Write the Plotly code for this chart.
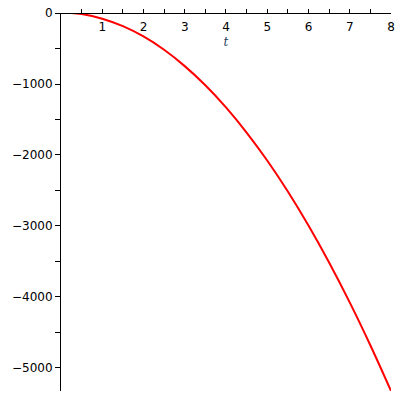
import plotly.graph_objects as go

t_vals = [0, 0.25, 0.5, 1, 1.5, 2, 2.5, 3, 3.5, 4, 4.5, 5, 5.5, 6, 6.5, 7, 7.5, 8]
y_vals = [0, -1, -15, -80, -185, -330, -518, -748, -1018, -1330, -1684, -2078, -2515, -2994, -3514, -4076, -4680, -5322]

x_ticks = [1, 2, 3, 4, 5, 6, 7, 8]
y_ticks = [0, -1000, -2000, -3000, -4000, -5000]

fig = go.Figure()
fig.add_trace(go.Scatter(x=t_vals, y=y_vals, mode="lines",
                         line=dict(color="#ff0000", width=2, shape="spline"),
                         showlegend=False, hoverinfo="skip"))

font = dict(family="DejaVu Sans", size=12, color="black")

fig.update_layout(
    width=400, height=400,
    margin=dict(l=61, r=9, t=13, b=9),
    paper_bgcolor="white", plot_bgcolor="white",
    xaxis=dict(range=[0, 8.001], anchor="free", position=1, side="bottom",
               automargin=False, ticklabeloverflow="allow", ticklabelstandoff=3,
               tickvals=x_ticks, ticks="inside", ticklen=4, tickcolor="black",
               showline=True, linecolor="black", linewidth=1,
               showgrid=False, zeroline=False, tickfont=font,
               minor=dict(dtick=0.5, ticks="inside", ticklen=4, tickcolor="black"),
               title=dict(text="<i>t</i>", font=dict(family="DejaVu Serif", size=12), standoff=4)),
    yaxis=dict(range=[-5325, 0.5], tickvals=y_ticks, ticks="outside", ticklen=5,
               automargin=False, ticklabeloverflow="allow",
               tickcolor="black", showline=True, linecolor="black", linewidth=1,
               showgrid=False, zeroline=False, tickfont=font,
               minor=dict(dtick=500, ticks="outside", ticklen=5, tickcolor="black")),
)

fig.write_html("out.html", config={"displayModeBar": False},
               post_script="document.body.style.margin='0';document.body.style.overflow='hidden';")
